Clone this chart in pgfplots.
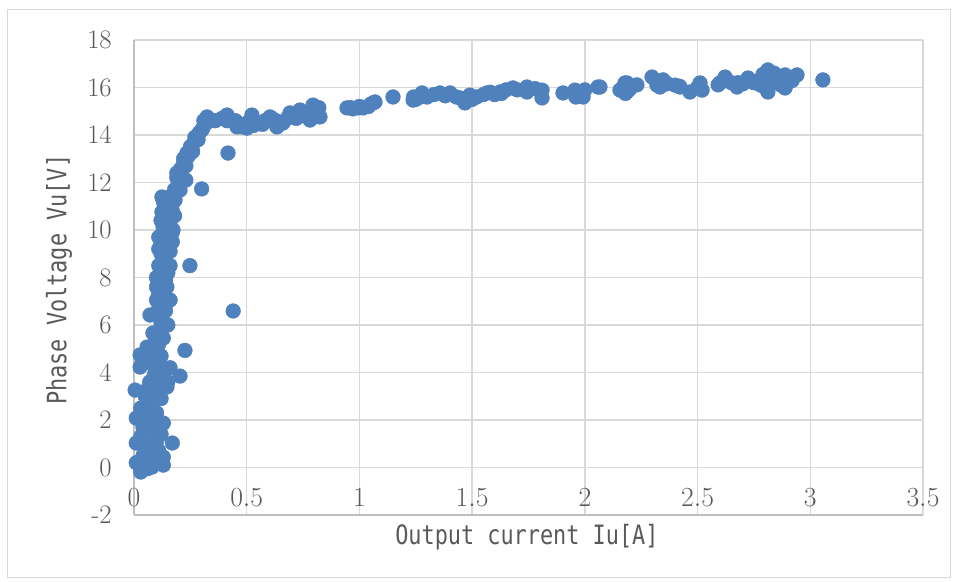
\documentclass[border=0pt]{standalone}
\usepackage{pgfplots}
\pgfplotsset{compat=1.18}
\usepackage{fontspec}
\newfontfamily\gothic[FakeStretch=0.82]{DejaVu Sans Mono}
\definecolor{ptblue}{HTML}{4F81BD}
\definecolor{gridgray}{HTML}{D9D9D9}
\definecolor{axisgray}{HTML}{BFBFBF}
\definecolor{txtgray}{HTML}{595959}
\begin{document}
\begin{tikzpicture}
\begin{axis}[
  at={(0pt,0pt)}, anchor=south west,
  scale only axis,
  width=591.75pt, height=356.25pt,
  xmin=0, xmax=3.5, ymin=-2, ymax=18,
  xtick={0,0.5,1,1.5,2,2.5,3,3.5},
  ytick={-2,0,2,4,6,8,10,12,14,16,18},
  yticklabels={-2,0,2,4,6,8,10,12,14,16,18},
  major tick length=0pt,
  grid=major,
  major grid style={gridgray, line width=1pt},
  axis x line*=bottom, axis y line*=left,
  axis line style={-, axisgray, line width=1pt},
  tick label style={font=\fontsize{20}{24}\selectfont, text=txtgray},
  xticklabel style={anchor=base, inner sep=0pt, yshift=6pt},
  yticklabel style={anchor=east, inner sep=0pt, xshift=-16.5pt},
  xlabel={Output current Iu[A]},
  ylabel={Phase Voltage Vu[V]},
  label style={font=\gothic\fontsize{20}{24}\selectfont, text=txtgray},
  xlabel style={at={(axis description cs:0.498,-0.0463)}, anchor=center},
  ylabel style={at={(axis description cs:-0.095,0.495)}, anchor=center, rotate=0},
  clip=false,
]
\addplot[only marks, mark=*, mark size=5.5pt, mark options={fill=ptblue, draw=ptblue}] coordinates {
(0.01,0.2) (0.03,-0.19) (0.05,0.1) (0.08,0.02) (0.06,0.4) (0.13,0.44) (0.09,0.3)
(0.01,1.03) (0.04,1.0) (0.07,0.74) (0.10,1.1) (0.17,1.03) (0.06,1.5)
(0.04,1.7) (0.01,2.08) (0.05,2.2) (0.08,1.9) (0.13,1.87) (0.10,2.3) (0.06,2.6)
(0.08,2.72) (0.12,2.9) (0.05,3.0) (0.09,3.2) (0.005,3.26) (0.146,3.39) (0.11,3.5)
(0.13,3.81) (0.07,3.6) (0.204,3.85) (0.10,4.0) (0.16,4.2)
(0.027,4.23) (0.107,4.4) (0.027,4.74) (0.06,4.6) (0.058,5.07) (0.09,5.2) (0.13,5.45)
(0.084,5.66) (0.12,5.9) (0.226,4.93)
(0.071,6.42) (0.124,6.34) (0.11,6.7) (0.10,7.05) (0.16,7.05) (0.13,7.3) (0.10,7.6)
(0.146,7.6) (0.10,8.0) (0.12,7.8) (0.15,8.2) (0.248,8.5)
(0.11,8.5) (0.14,8.7) (0.12,9.0) (0.16,9.1) (0.12,9.4) (0.17,9.5) (0.13,9.8) (0.17,9.9)
(0.129,10.13) (0.173,10.0) (0.15,10.4) (0.124,10.76) (0.18,10.6) (0.14,11.0)
(0.124,11.39) (0.182,11.26) (0.17,11.1) (0.204,11.68) (0.20,12.0) (0.23,12.1)
(0.19,12.4) (0.204,12.53) (0.22,12.8) (0.235,13.24) (0.22,13.0) (0.25,13.5)
(0.27,13.9) (0.26,13.6) (0.284,13.8) (0.29,14.1) (0.306,14.3) (0.32,14.5) (0.30,14.2)
(0.33,14.7) (0.30,11.73) (0.417,13.24) (0.44,6.59)
(0.11,7.3) (0.14,7.9) (0.16,8.5) (0.11,9.2) (0.15,9.3) (0.11,9.7) (0.15,9.7) (0.16,10.2)
(0.12,10.4) (0.17,10.8) (0.13,11.2) (0.16,11.4) (0.18,11.7) (0.19,12.2) (0.21,12.6)
(0.23,12.7) (0.24,13.1) (0.26,13.3) (0.28,13.9) (0.31,14.6) (0.14,6.6) (0.12,6.1)
(0.10,5.6) (0.15,6.0) (0.11,5.2) (0.08,4.8) (0.12,4.7) (0.07,4.4) (0.13,4.0) (0.09,3.9)
(0.15,3.6) (0.06,3.3) (0.11,3.0) (0.07,2.3) (0.03,2.5) (0.09,1.5) (0.12,1.4) (0.03,1.3)
(0.11,0.7) (0.04,0.5) (0.13,0.1) (0.06,-0.05)
(0.324,14.76) (0.413,14.84) (0.457,14.34) (0.479,14.34) (0.501,14.29) (0.523,14.84)
(0.413,14.60) (0.36,14.6) (0.39,14.7)
(0.603,14.76) (0.612,14.7) (0.634,14.34) (0.55,14.5) (0.58,14.6) (0.66,14.5)
(0.692,14.93) (0.701,14.84) (0.736,15.05) (0.745,14.93) (0.781,14.63) (0.794,15.26)
(0.812,15.05) (0.825,14.76) (0.76,14.8) (0.72,14.7)
(0.945,15.14) (0.994,15.14) (1.016,15.14) (1.06,15.35) (1.069,15.39) (1.149,15.6)
(0.97,15.1) (1.04,15.2)
(1.238,15.47) (1.278,15.77) (1.30,15.6) (1.25,15.5) (1.357,15.77) (1.402,15.77)
(1.468,15.35) (1.49,15.68) (1.43,15.6) (1.52,15.6)
(1.566,15.77) (1.624,15.81) (1.681,15.98) (1.743,16.02) (1.743,15.81) (1.810,15.89)
(1.810,15.56) (1.60,15.7) (1.65,15.9)
(1.903,15.77) (1.956,15.89) (1.992,15.6) (2.058,16.02) (1.96,15.6) (2.00,15.9)
(2.067,16.02) (2.156,15.89) (2.165,15.89) (2.178,16.19) (2.187,16.19) (2.231,16.11)
(2.18,15.75) (2.20,15.95)
(2.298,16.44) (2.333,16.02) (2.347,16.32) (2.422,16.02) (2.466,15.81) (2.511,16.19)
(2.520,15.89) (2.40,16.1) (2.36,16.15)
(2.591,16.11) (2.622,16.44) (2.675,16.02) (2.724,16.40) (2.777,16.32) (2.812,16.74)
(2.812,15.81) (2.835,16.32) (2.888,16.53) (2.888,15.98) (2.941,16.53) (3.056,16.32)
(2.65,16.2) (2.70,16.15) (2.75,16.2) (2.80,16.0) (2.85,16.45) (2.90,16.2) (2.80,16.5)
(2.78,16.1) (2.87,16.1)
(0.45,14.6) (0.50,14.5) (0.53,14.4) (0.57,14.45) (0.63,14.6) (0.68,14.7) (0.71,14.8)
(0.78,14.9) (0.80,14.85) (0.82,15.15) (0.96,15.15) (1.00,15.2) (1.05,15.3) (1.24,15.6)
(1.27,15.6) (1.33,15.7) (1.38,15.65) (1.45,15.55) (1.50,15.5) (1.55,15.7) (1.58,15.8)
(1.63,15.75) (1.70,15.9) (1.78,15.95) (2.17,16.0) (2.19,15.85) (2.32,16.1) (2.36,16.2)
(2.42,16.05) (2.50,16.0) (2.60,16.2) (2.68,16.2) (2.72,16.3) (2.76,16.25) (2.82,16.2)
(2.84,16.6) (2.90,16.4) (2.92,16.3) (2.86,16.2) (2.81,16.4) (2.79,16.55)
};
\end{axis}
\pgfresetboundingbox
\useasboundingbox (-100.5pt,-50.25pt) rectangle (618pt,386.25pt);
\draw[gridgray, line width=0.75pt] (-94.5pt,-47.25pt) rectangle (612pt,378.75pt);
\end{tikzpicture}
\end{document}
